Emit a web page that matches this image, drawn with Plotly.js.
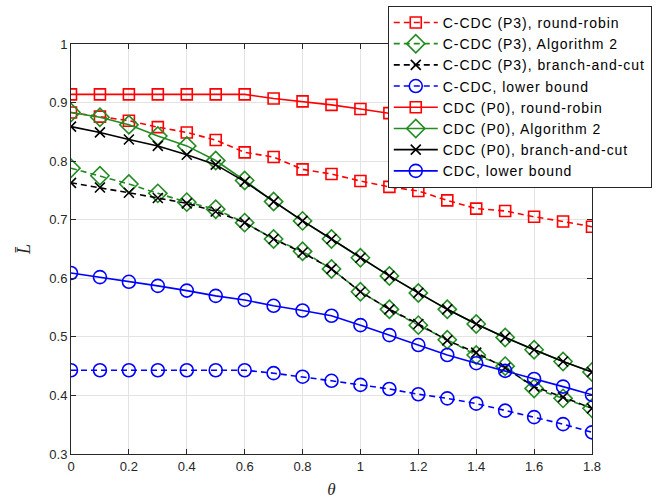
<!DOCTYPE html>
<html>
<head>
<meta charset="utf-8">
<script src="https://cdn.plot.ly/plotly-3.0.1.min.js"></script>
<style>html,body{margin:0;padding:0;background:#fff}#chart{width:657px;height:502px}
.legendtext{letter-spacing:0.95px}</style>
</head>
<body>
<div id="chart"></div>
<script>
const theta = [0,0.1,0.2,0.3,0.4,0.5,0.6,0.7,0.8,0.9,1.0,1.1,1.2,1.3,1.4,1.5,1.6,1.7,1.8];

const ccdcRoundRobin = [0.883,0.876,0.869,0.858,0.849,0.836,0.815,0.807,0.786,0.778,0.766,0.756,0.749,0.733,0.719,0.715,0.705,0.697,0.688];
const ccdcAlg2       = [0.788,0.775,0.761,0.745,0.730,0.718,0.695,0.667,0.646,0.616,0.577,0.547,0.520,0.495,0.469,0.450,0.412,0.395,0.378];
const ccdcBnC        = [0.763,0.755,0.746,0.737,0.728,0.714,0.695,0.667,0.644,0.616,0.577,0.547,0.522,0.494,0.473,0.447,0.415,0.397,0.378];
const ccdcLower      = [0.443,0.443,0.443,0.443,0.443,0.443,0.443,0.438,0.432,0.425,0.418,0.411,0.402,0.395,0.386,0.374,0.363,0.351,0.337];
const cdcRoundRobin  = [0.914,0.914,0.914,0.914,0.914,0.914,0.914,0.907,0.902,0.896,0.889,0.882,0.874,0.866,0.857,0.848,0.838,0.828,0.818];
const cdcAlg2        = [0.883,0.875,0.862,0.843,0.826,0.801,0.767,0.731,0.698,0.667,0.635,0.604,0.575,0.547,0.522,0.499,0.478,0.458,0.440];
const cdcBnC         = [0.859,0.849,0.837,0.826,0.811,0.794,0.765,0.731,0.698,0.667,0.635,0.604,0.575,0.547,0.522,0.499,0.478,0.458,0.440];
const cdcLower       = [0.609,0.602,0.594,0.587,0.579,0.570,0.563,0.553,0.545,0.536,0.520,0.503,0.486,0.469,0.455,0.442,0.428,0.415,0.401];

const names = [
  'C-CDC (P3), round-robin',
  'C-CDC (P3), Algorithm 2',
  'C-CDC (P3), branch-and-cut',
  'C-CDC, lower bound',
  'CDC (P0), round-robin',
  'CDC (P0), Algorithm 2',
  'CDC (P0), branch-and-cut',
  'CDC, lower bound'
];
const xTicks = [0,0.2,0.4,0.6,0.8,1,1.2,1.4,1.6,1.8];
const xTickLabels = ['0','0.2','0.4','0.6','0.8','1','1.2','1.4','1.6','1.8'];
const yTicks = [0.3,0.4,0.5,0.6,0.7,0.8,0.9,1];
const yTickLabels = ['0.3','0.4','0.5','0.6','0.7','0.8','0.9','1'];

const RED='#ff0000', GREEN='#228b22', BLACK='#000000', BLUE='#0000ff';
const DASH='6px,4px';

function tr(y, name, color, dash, symbol, size){
  return {
    x: theta, y: y, name: name, type: 'scatter', mode: 'lines+markers',
    line: {color: color, width: 1.6, dash: dash},
    marker: {symbol: symbol, size: size, color: color, line: {color: color, width: 1.6}}
  };
}

const data = [
  tr(ccdcRoundRobin, names[0], RED, DASH, 'square-open', 11),
  tr(ccdcAlg2, names[1], GREEN, DASH, 'diamond-open', 14),
  tr(ccdcBnC, names[2], BLACK, DASH, 'x-thin-open', 10),
  tr(ccdcLower, names[3], BLUE, DASH, 'circle-open', 13),
  tr(cdcRoundRobin, names[4], RED, 'solid', 'square-open', 11),
  tr(cdcAlg2, names[5], GREEN, 'solid', 'diamond-open', 14),
  tr(cdcBnC, names[6], BLACK, 'solid', 'x-thin-open', 10),
  tr(cdcLower, names[7], BLUE, 'solid', 'circle-open', 13)
];

const axisCommon = {
  showline: true, mirror: 'ticks', linecolor: '#262626', linewidth: 1,
  ticks: 'inside', ticklen: 5, tickcolor: '#262626',
  showgrid: true, gridcolor: '#e3e3e3', gridwidth: 1, zeroline: false,
  tickfont: {family: 'Liberation Sans, Arial, sans-serif', size: 13, color: '#262626'}
};

const layout = {
  width: 657, height: 502,
  margin: {l: 71, r: 65, t: 44, b: 48, autoexpand: false},
  paper_bgcolor: '#fff', plot_bgcolor: '#fff',
  showlegend: true,
  xaxis: Object.assign({}, axisCommon, {
    range: [0, 1.8], tickvals: xTicks, ticktext: xTickLabels,
    title: {text: '<i>θ</i>', font: {family: 'Liberation Serif, Times New Roman, serif', size: 17, color: '#262626'}, standoff: 10}
  }),
  yaxis: Object.assign({}, axisCommon, {
    range: [0.3, 1], tickvals: yTicks, ticktext: yTickLabels,
    title: {text: '<i>L̄</i>', font: {family: 'Liberation Serif, Times New Roman, serif', size: 18, color: '#262626'}, standoff: 14}
  }),
  legend: {
    x: 0.608, y: 1.093, xanchor: 'left', yanchor: 'top',
    bgcolor: '#ffffff', bordercolor: '#262626', borderwidth: 1,
    font: {family: 'Liberation Sans, Arial, sans-serif', size: 14, color: '#000'},
    tracegroupgap: 0, itemwidth: 44
  }
};

Plotly.newPlot('chart', data, layout, {displayModeBar: false, staticPlot: true});
</script>
</body>
</html>
